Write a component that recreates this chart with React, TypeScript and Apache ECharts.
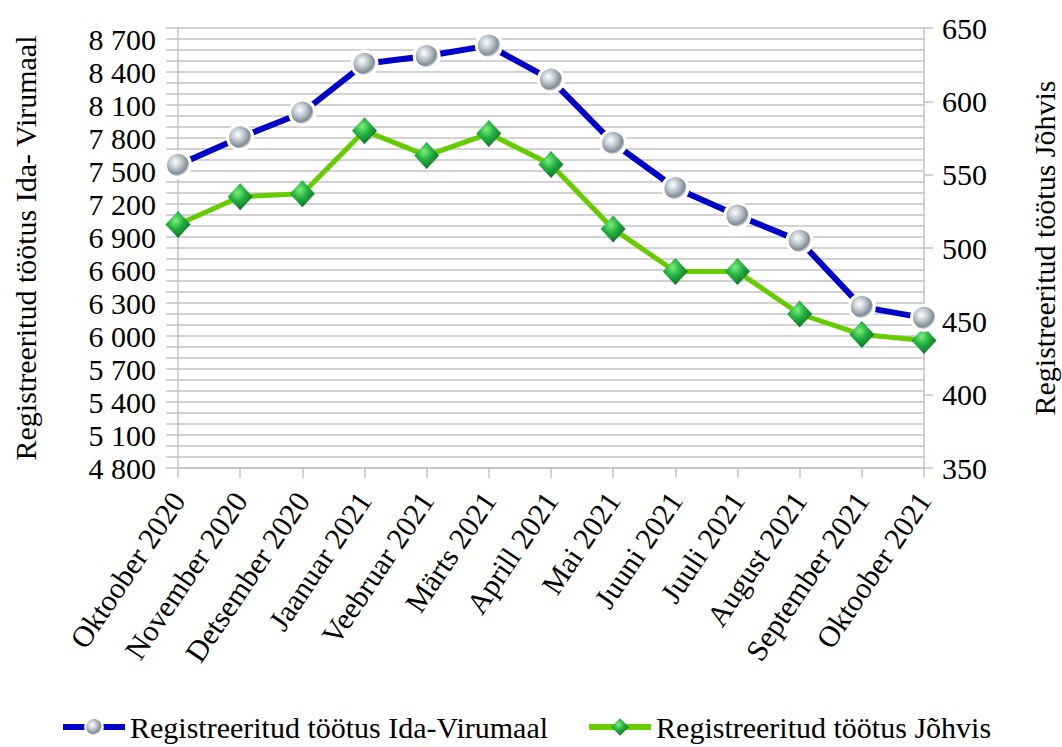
import React, { useEffect, useRef } from "react";
import * as echarts from "echarts";

const months = [
  "Oktoober 2020",
  "November 2020",
  "Detsember 2020",
  "Jaanuar 2021",
  "Veebruar 2021",
  "Märts 2021",
  "Aprill 2021",
  "Mai 2021",
  "Juuni 2021",
  "Juuli 2021",
  "August 2021",
  "September 2021",
  "Oktoober 2021",
];

const idaVirumaa = [7555, 7805, 8030, 8475, 8545, 8640, 8330, 7755, 7345, 7095, 6865, 6265, 6165];
const johvi = [516, 535, 537, 580, 563, 578, 557, 513, 484, 484, 455, 441, 437];

const leftMin = 4800;
const leftMax = 8800;
const leftLabelStep = 300;
const leftLabelTop = 8700;
const rightMin = 350;
const rightMax = 650;
const rightStep = 50;

const seriesNames = ["Registreeritud töötus Ida-Virumaal", "Registreeritud töötus Jõhvis"];
const axisNames = ["Registreeritud töötus Ida- Virumaal", "Registreeritud töötus Jõhvis"];

const FONT = "Liberation Serif";
const GRAY = "#c3c3c3";

const fmt = (v: number) => String(v).replace(/\B(?=(\d{3})+(?!\d))/g, " ");

export default function App() {
  const ref = useRef<HTMLDivElement>(null);
  useEffect(() => {
    if (!ref.current) return;
    document.body.style.margin = "0";
    const chart = echarts.init(ref.current, undefined, { renderer: "svg" });
    chart.setOption({
      animation: false,
      backgroundColor: "#ffffff",
      textStyle: { fontFamily: FONT, color: "#000" },
      grid: {
        left: 178,
        right: 138,
        top: 28,
        bottom: 279,
        containLabel: false,
        outerBoundsMode: "none",
      },
      legend: {
        left: 55,
        top: 707,
        itemWidth: 62,
        itemHeight: 22,
        itemGap: 38,
        lineStyle: { width: 6 },
        textStyle: { fontFamily: FONT, fontSize: 30, color: "#000" },
        data: seriesNames,
      },
      xAxis: {
        type: "category",
        boundaryGap: false,
        data: months,
        axisLine: { lineStyle: { color: GRAY, width: 1.5 } },
        axisTick: { show: true, length: 10, lineStyle: { color: GRAY, width: 1.5 } },
        axisLabel: {
          rotate: 56,
          fontSize: 30,
          fontFamily: FONT,
          color: "#000",
          margin: 27,
          interval: 0,
        },
        splitLine: { show: false },
      },
      yAxis: [
        {
          type: "value",
          min: leftMin,
          max: leftMax,
          interval: 100,
          position: "left",
          name: axisNames[0],
          nameLocation: "middle",
          nameRotate: 90,
          nameGap: 138,
          nameTextStyle: { fontFamily: FONT, fontSize: 30, color: "#000" },
          axisLine: { show: true, lineStyle: { color: GRAY, width: 1.5 } },
          axisTick: { show: true, length: 12, lineStyle: { color: GRAY, width: 1.5 } },
          axisLabel: {
            fontSize: 30,
            fontFamily: FONT,
            color: "#000",
            margin: 22,
            formatter: (v: number) =>
              (v - leftMin) % leftLabelStep === 0 && v <= leftLabelTop ? fmt(v) : "",
          },
          splitLine: { show: true, lineStyle: { color: GRAY, width: 1.5 } },
        },
        {
          type: "value",
          min: rightMin,
          max: rightMax,
          interval: rightStep,
          position: "right",
          name: axisNames[1],
          nameLocation: "middle",
          nameRotate: 90,
          nameGap: 105,
          nameTextStyle: { fontFamily: FONT, fontSize: 30, color: "#000" },
          axisLine: { show: true, lineStyle: { color: GRAY, width: 1.5 } },
          axisTick: { show: true, length: 9, lineStyle: { color: GRAY, width: 1.5 } },
          axisLabel: { fontSize: 30, fontFamily: FONT, color: "#000", margin: 18 },
          splitLine: { show: false },
        },
      ],
      series: [
        {
          name: seriesNames[1],
          type: "line",
          yAxisIndex: 1,
          data: johvi,
          symbol: "diamond",
          symbolSize: [25, 27],
          lineStyle: { color: "#66cc00", width: 5 },
          itemStyle: {
            color: {
              type: "radial",
              x: 0.4,
              y: 0.35,
              r: 0.7,
              colorStops: [
                { offset: 0, color: "#7cf07c" },
                { offset: 0.45, color: "#22b040" },
                { offset: 1, color: "#0b6a25" },
              ],
            },
            borderWidth: 0,
          },
          z: 2,
        },
        {
          name: seriesNames[0],
          type: "line",
          yAxisIndex: 0,
          data: idaVirumaa,
          symbol: "circle",
          symbolSize: 25,
          lineStyle: { color: "#0000c8", width: 6 },
          itemStyle: {
            color: {
              type: "radial",
              x: 0.4,
              y: 0.38,
              r: 0.6,
              colorStops: [
                { offset: 0, color: "#ffffff" },
                { offset: 0.35, color: "#c9d2d8" },
                { offset: 0.8, color: "#7f8c95" },
                { offset: 1, color: "#ffffff" },
              ],
            },
            borderColor: "#ffffff",
            borderWidth: 3,
          },
          z: 3,
        },
      ],
    });
    return () => chart.dispose();
  }, []);
  return <div ref={ref} style={{ width: 1062, height: 747 }} />;
}
